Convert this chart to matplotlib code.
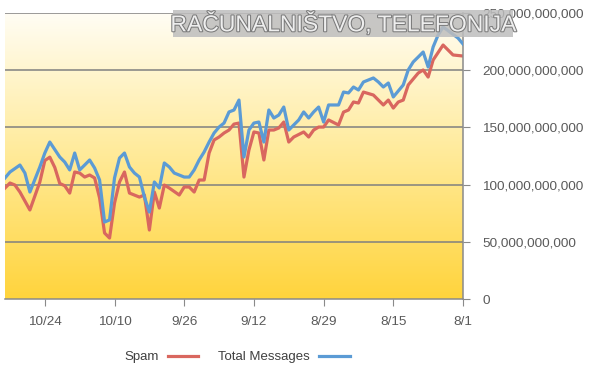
import matplotlib
matplotlib.use("Agg")
import matplotlib.pyplot as plt
import matplotlib.patheffects as pe
from matplotlib.patches import Rectangle
from matplotlib.colors import LinearSegmentedColormap
from matplotlib import font_manager
import numpy as np

# ---- data (days after Aug 1, values in billions) ----
total_days = [0, 1, 4, 5, 6, 7, 8, 9, 10, 11, 12, 14, 15, 16, 17, 18, 20, 21, 22, 23,
              24, 25, 27, 28, 29, 30, 31, 32, 33, 34, 35, 36, 37, 38, 39, 40, 41, 42, 43, 44,
              45, 46, 47, 48, 49, 50, 51, 52, 53, 54, 55, 56, 58, 59, 60, 61, 62, 63, 64, 65,
              66, 67, 68, 69, 70, 71, 72, 73, 74, 75, 76, 77, 78, 79, 80, 81, 83, 84, 85, 87,
              88, 89, 91, 92]
total_vals = [222.9, 228.1, 237.8, 230.8, 220.3, 202.8, 215.9, 211.5, 207.2, 200.2, 187.1,
              176.6, 188.8, 185.3, 189.7, 193.2, 189.7, 182.7, 185.3, 180.1, 180.9, 169.6,
              169.6, 154.7, 167.8, 163.5, 158.2, 163.5, 156.5, 152.1, 147.7, 167.8, 160.8,
              158.2, 165.2, 137.2, 154.7, 153.8, 147.7, 124.1, 173.9, 165.2, 163.5, 153.8,
              150.3, 145.1, 137.2, 128.5, 121.5, 112.8, 106.6, 106.6, 110.1, 115.4, 118.9,
              97.0, 102.3, 76.0, 89.2, 106.6, 110.1, 115.4, 127.6, 123.2, 105.8, 69.1, 67.3,
              104.0, 114.5, 121.5, 117.1, 112.8, 127.6, 112.8, 119.7, 124.1, 137.2, 127.6,
              115.4, 93.5, 110.1, 117.1, 111.0, 105.8]

spam_days = [0, 2, 4, 6, 7, 8, 9, 11, 12, 13, 14, 15, 16, 18, 20, 21, 22, 23, 24, 25,
             27, 28, 29, 30, 31, 32, 34, 35, 36, 37, 38, 39, 40, 41, 42, 43, 44, 45, 46, 47,
             48, 49, 50, 51, 52, 53, 54, 55, 56, 57, 59, 60, 61, 62, 63, 64, 65, 67, 68, 69,
             70, 71, 72, 73, 74, 75, 76, 77, 78, 79, 80, 81, 82, 83, 84, 85, 87, 89, 90, 91, 92]
spam_vals = [212.4, 213.3, 222.0, 208.9, 194.0, 200.2, 197.5, 187.1, 173.9, 172.2, 166.9,
             173.9, 169.6, 178.3, 180.9, 171.3, 172.2, 165.2, 163.4, 152.1, 156.5, 150.3,
             150.3, 147.7, 141.6, 146.0, 141.6, 137.2, 154.7, 149.5, 147.7, 147.7, 121.5,
             145.1, 146.0, 130.2, 106.6, 153.8, 152.9, 147.7, 145.1, 141.6, 139.0, 127.6,
             104.0, 104.0, 93.5, 97.9, 97.9, 90.9, 97.0, 99.6, 79.5, 93.5, 60.3, 90.9, 89.1,
             92.6, 111.0, 102.3, 83.9, 53.3, 57.7, 88.3, 105.8, 108.4, 106.6, 110.1, 111.0,
             92.6, 99.0, 101.0, 115.0, 124.0, 121.0, 102.3, 77.8, 93.5, 99.6, 101.4, 97.0]

tick_days = [0, 14, 28, 42, 56, 70, 84]
tick_labels = ['8/1', '8/15', '8/29', '9/12', '9/26', '10/10', '10/24']
y_ticks = [0, 50, 100, 150, 200, 250]
y_labels = ['0', '50,000,000,000', '100,000,000,000', '150,000,000,000',
            '200,000,000,000', '250,000,000,000']

plt.rcParams['font.family'] = ['Liberation Sans', 'DejaVu Sans']

installed = {f.name for f in font_manager.fontManager.ttflist}
wm_family = ['Liberation Sans Narrow', 'DejaVu Sans'] if 'Liberation Sans Narrow' in installed \
    else ['Liberation Sans', 'DejaVu Sans']
wm_size = 19 if 'Liberation Sans Narrow' in installed else 16.5

fig = plt.figure(figsize=(5.9, 3.76), dpi=100)
ax = fig.add_axes([5 / 590, 1 - 299 / 376, 458 / 590, 286 / 376])

x_left, x_right = 92.0, 0.0
ax.set_xlim(x_left, x_right)
ax.set_ylim(0, 250)

# background gradient
cmap = LinearSegmentedColormap.from_list('bg', ['#FFD43C', '#FFEA98', '#FFFDF4'])
grad = np.linspace(0, 1, 256).reshape(-1, 1)
ax.imshow(grad, extent=[x_left, x_right, 0, 250], origin='lower', aspect='auto',
          cmap=cmap, zorder=0, interpolation='bicubic')

for yv in y_ticks[1:]:
    ax.axhline(yv, color='#808080', lw=1.1, zorder=1)

ax.plot(total_days, total_vals, color='#5B9BD5', lw=2.3, zorder=3,
        label='Total Messages', solid_joinstyle='round')
ax.plot(spam_days, spam_vals, color='#D9675F', lw=2.3, zorder=2,
        label='Spam', solid_joinstyle='round')

ax.yaxis.tick_right()
ax.set_yticks(y_ticks)
ax.set_yticklabels(y_labels)
ax.set_xticks(tick_days)
ax.set_xticklabels(tick_labels)
ax.tick_params(axis='y', direction='out', length=5, color='#8a8a8a', pad=9,
               labelsize=9.7, labelcolor='#5a5a5a')
ax.tick_params(axis='x', direction='out', length=5, color='#8a8a8a', pad=7,
               labelsize=9.7, labelcolor='#5a5a5a')
for s in ['top', 'left']:
    ax.spines[s].set_visible(False)
for s in ['right', 'bottom']:
    ax.spines[s].set_color('#8a8a8a')
    ax.spines[s].set_linewidth(1.1)

handles, labels = ax.get_legend_handles_labels()
leg = fig.legend([handles[1], handles[0]], [labels[1], labels[0]], ncol=2,
                 loc='center', bbox_to_anchor=(237 / 590, 1 - 357 / 376),
                 frameon=False, markerfirst=False, fontsize=9.5,
                 handlelength=2.3, columnspacing=1.5, handletextpad=0.7)
for t in leg.get_texts():
    t.set_color('#404040')

# watermark
fig.patches.append(Rectangle((173 / 590, 1 - 37 / 376), 340 / 590, 27 / 376,
                             transform=fig.transFigure, facecolor='#bdbdbd',
                             edgecolor='none', alpha=0.85, zorder=5))
wt = fig.text(343 / 590, 1 - 24 / 376, 'RAČUNALNIŠTVO, TELEFONIJA', ha='center',
              va='center', fontsize=wm_size, color='#eeeeee', zorder=6,
              fontfamily=wm_family)
wt.set_path_effects([pe.withStroke(linewidth=1.5, foreground='#7a7a7a')])

fig.savefig('out.png', dpi=100)
